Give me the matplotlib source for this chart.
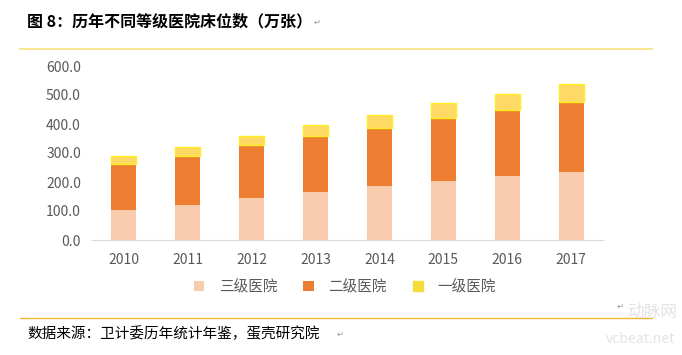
import matplotlib.pyplot as plt
import numpy as np

plt.rcParams['font.family'] = ['Noto Sans CJK SC', 'DejaVu Sans']

years = ['2010', '2011', '2012', '2013', '2014', '2015', '2016', '2017']
tertiary = [103, 120, 145, 165, 185, 202, 219, 233]   # 三级医院
secondary = [160, 168, 181, 192, 202, 220, 230, 244]  # 二级医院
primary = [27, 31, 33, 38, 44, 50, 54, 61]            # 一级医院
series_names = ['三级医院', '二级医院', '一级医院']

fig = plt.figure(figsize=(6.82, 3.55), dpi=100)
W, H = 682, 355
ax = fig.add_axes([92 / W, 1 - 240 / H, (603 - 92) / W, (240 - 66) / H])

x = np.arange(len(years))
w = 0.39
b1 = ax.bar(x, tertiary, w, color='#f8cbad', label=series_names[0])
b2 = ax.bar(x, secondary, w, bottom=tertiary, color='#ed7d31', label=series_names[1])
bot = np.array(tertiary) + np.array(secondary)
b3 = ax.bar(x, primary, w, bottom=bot, color='#ffd966', edgecolor='#ffee22',
            linewidth=1.0, label=series_names[2])

ax.set_xlim(-0.5, 7.5)
ax.set_ylim(0, 600)
ax.set_yticks(np.arange(0, 601, 100))
ax.set_yticklabels(['%.1f' % v for v in np.arange(0, 601, 100)])
ax.set_xticks(x)
ax.set_xticklabels(years)
ax.tick_params(axis='both', length=0, labelsize=10, labelcolor='#595959')
ax.tick_params(axis='x', pad=9)
ax.tick_params(axis='y', pad=8)
for s in ['top', 'right', 'left']:
    ax.spines[s].set_visible(False)
ax.spines['bottom'].set_color('#d9d9d9')

leg = fig.legend(handles=[b1, b2, b3], labels=series_names, loc='center',
                 bbox_to_anchor=(345 / W, 1 - 287 / H), ncol=3, frameon=False,
                 fontsize=10.5, handlelength=0.7, handleheight=0.7,
                 columnspacing=1.8, handletextpad=1.0)
for t in leg.get_texts():
    t.set_color('#595959')
leg.legend_handles[2].set_facecolor('#f5dc3c')
leg.legend_handles[2].set_edgecolor('#f5dc3c')

# title and decorative lines
fig.text(27 / W, 1 - 21 / H, '图 8：历年不同等级医院床位数（万张）', fontsize=11.5,
         fontweight='bold', va='center', ha='left')
fig.text(314 / W, 1 - 22 / H, '↵', fontsize=6, color='#999999', va='center')
fig.add_artist(plt.Line2D([20 / W, 652 / W], [1 - 49 / H, 1 - 49 / H],
                          color='#f7e27a', lw=1.2))
fig.add_artist(plt.Line2D([20 / W, 652 / W], [1 - 318 / H, 1 - 318 / H],
                          color='#f2b632', lw=1.0))
fig.text(617 / W, 1 - 306 / H, '↵', fontsize=6, color='#999999', va='center')
fig.text(27 / W, 1 - 334 / H, '数据来源：卫计委历年统计年鉴，蛋壳研究院', fontsize=10.5,
         va='center', ha='left')
fig.text(337 / W, 1 - 334 / H, '↵', fontsize=6, color='#999999', va='center')

# faint watermark
fig.text(652 / W, 1 - 312 / H, '动脉网', fontsize=12, color='#e3e3e3',
         va='center', ha='center')
fig.text(640 / W, 1 - 339 / H, 'vcbeat.net', fontsize=10, color='#e3e3e3',
         va='center', ha='center')

fig.savefig('out.png', dpi=100)
